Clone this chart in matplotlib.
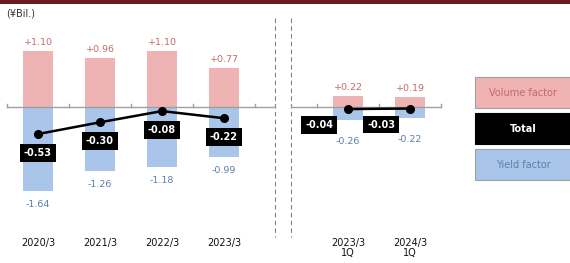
import matplotlib.pyplot as plt
from matplotlib.patches import Rectangle

# data
years = ["2020/3", "2021/3", "2022/3", "2023/3", "2023/3\n1Q", "2024/3\n1Q"]
xpos = [0, 1, 2, 3, 5, 6]
volume = [1.10, 0.96, 1.10, 0.77, 0.22, 0.19]
yieldf = [-1.64, -1.26, -1.18, -0.99, -0.26, -0.22]
total = [-0.53, -0.30, -0.08, -0.22, -0.04, -0.03]

pink = "#efb3b3"
blue = "#a9c5ea"
pink_txt = "#c46a6a"
blue_txt = "#5a7fa8"

W, H = 570, 263
fig = plt.figure(figsize=(W / 100, H / 100), dpi=100)
ax = fig.add_axes([0, 0, 1, 1])
# 62 px per category, 51 px per unit, baseline at y=107 px
ax.set_xlim(-38 / 62, (W - 38) / 62)
ax.set_ylim(-(H - 107) / 51, 107 / 51)
ax.axis("off")

ax.bar(xpos, volume, width=0.47, color=pink, zorder=2)
ax.bar(xpos, yieldf, width=0.47, color=blue, zorder=2)

# baselines + ticks
ax.plot([-0.5, 3.82], [0, 0], color="#a0a0a0", lw=1, zorder=3)
ax.plot([4.08, 6.5], [0, 0], color="#a0a0a0", lw=1, zorder=3)
for t in [-0.5, 0.5, 1.5, 2.5, 3.5, 4.5, 5.5, 6.5]:
    ax.plot([t, t], [0, 0.06], color="#a0a0a0", lw=1, zorder=3)

# dashed separators
for xs in [3.82, 4.08]:
    ax.plot([xs, xs], [(107 - 18) / 51, (107 - 237) / 51], color="#808080",
            lw=0.8, ls=(0, (4, 3)), zorder=1)

# total lines
ax.plot(xpos[:4], total[:4], color="black", lw=1.8, marker="o", ms=5.5, zorder=4)
ax.plot(xpos[4:], total[4:], color="black", lw=1.8, marker="o", ms=5.5, zorder=4)

for i, x in enumerate(xpos):
    ax.annotate("+%.2f" % volume[i], (x, volume[i]), xytext=(0, 4),
                textcoords="offset pixels", ha="center", va="bottom",
                fontsize=6.8, color=pink_txt)
    dy = -9 if i < 4 else -17
    ax.annotate("%.2f" % yieldf[i], (x, yieldf[i]), xytext=(0, dy),
                textcoords="offset pixels", ha="center", va="top",
                fontsize=6.8, color=blue_txt)
    off = (0, -19) if i < 4 else (-29, -16)
    ax.annotate("%.2f" % total[i], (x, total[i]), xytext=off,
                textcoords="offset pixels", ha="center", va="center",
                fontsize=7, color="white", fontweight="bold", zorder=5,
                bbox=dict(boxstyle="square,pad=0.4", fc="black", ec="none"))
    ax.text(x, (107 - 238) / 51, years[i], ha="center", va="top",
            fontsize=7, color="#111111", linespacing=1.0)

# header bar and unit
fig.patches.append(Rectangle((0, 1 - 4 / H), 1, 4 / H, transform=fig.transFigure,
                             fc="#6b1a22", ec="none"))
fig.text(6 / W, 1 - 14 / H, "(¥Bil.)", fontsize=7, va="center", color="#333333")

# legend boxes
legend = [("Volume factor", pink, pink_txt, "normal", 77),
          ("Total", "black", "white", "bold", 113),
          ("Yield factor", blue, blue_txt, "normal", 149)]
for lab, fc, tc, fw, top in legend:
    fig.patches.append(Rectangle((475 / W, 1 - (top + 31) / H), 96 / W, 31 / H,
                                 transform=fig.transFigure, fc=fc,
                                 ec="#a0a0a0" if fc != "black" else "black", lw=0.8))
    fig.text((475 + 48) / W, 1 - (top + 16) / H, lab, ha="center", va="center",
             fontsize=7, color=tc, fontweight=fw)

fig.savefig("out.png", dpi=100)
